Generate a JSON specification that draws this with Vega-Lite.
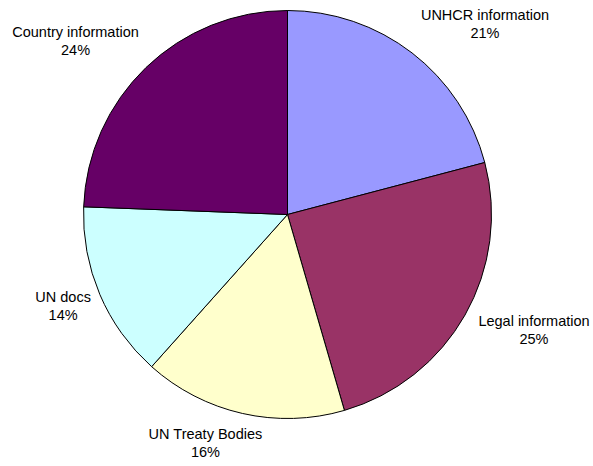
{
  "$schema": "https://vega.github.io/schema/vega-lite/v6.json",
  "autosize": {"type": "none"},
  "width": 575,
  "height": 429,
  "padding": {"left": 0, "top": 0, "right": 18, "bottom": 37},
  "background": "white",
  "config": {"view": {"stroke": null}},
  "data": {
    "values": [
      {"category": "UNHCR information", "value": 20.9, "order": 1, "label": "UNHCR information\n21%"},
      {"category": "Legal information", "value": 24.6, "order": 2, "label": "Legal information\n25%"},
      {"category": "UN Treaty Bodies", "value": 16.1, "order": 3, "label": "UN Treaty Bodies\n16%"},
      {"category": "UN docs", "value": 14.0, "order": 4, "label": "UN docs\n14%"},
      {"category": "Country information", "value": 24.4, "order": 5, "label": "Country information\n24%"}
    ]
  },
  "encoding": {
    "theta": {"field": "value", "type": "quantitative", "stack": true},
    "order": {"field": "order", "type": "quantitative"}
  },
  "layer": [
    {
      "mark": {"type": "arc", "outerRadius": 204, "stroke": "black", "strokeWidth": 1},
      "encoding": {
        "color": {
          "field": "category",
          "type": "nominal",
          "scale": {
            "domain": ["UNHCR information", "Legal information", "UN Treaty Bodies", "UN docs", "Country information"],
            "range": ["#9999FF", "#993366", "#FFFFCC", "#CCFFFF", "#660066"]
          },
          "legend": null
        }
      }
    },
    {
      "mark": {"type": "text", "radius": 258, "dx": 40, "dy": 6, "font": "Liberation Sans", "fontSize": 14.5, "lineBreak": "\n", "lineHeight": 18, "color": "black", "align": "center", "baseline": "middle"},
      "encoding": {
        "text": {"condition": {"test": "datum.order == 1", "field": "label"}, "value": ""}
      }
    },
    {
      "mark": {"type": "text", "radius": 258, "dx": 22, "dy": -20, "font": "Liberation Sans", "fontSize": 14.5, "lineBreak": "\n", "lineHeight": 18, "color": "black", "align": "center", "baseline": "middle"},
      "encoding": {
        "text": {"condition": {"test": "datum.order == 2", "field": "label"}, "value": ""}
      }
    },
    {
      "mark": {"type": "text", "radius": 258, "dx": -25, "dy": -31, "font": "Liberation Sans", "fontSize": 14.5, "lineBreak": "\n", "lineHeight": 18, "color": "black", "align": "center", "baseline": "middle"},
      "encoding": {
        "text": {"condition": {"test": "datum.order == 3", "field": "label"}, "value": ""}
      }
    },
    {
      "mark": {"type": "text", "radius": 258, "dx": 13, "dy": -17, "font": "Liberation Sans", "fontSize": 14.5, "lineBreak": "\n", "lineHeight": 18, "color": "black", "align": "center", "baseline": "middle"},
      "encoding": {
        "text": {"condition": {"test": "datum.order == 4", "field": "label"}, "value": ""}
      }
    },
    {
      "mark": {"type": "text", "radius": 258, "dx": -33, "dy": 4, "font": "Liberation Sans", "fontSize": 14.5, "lineBreak": "\n", "lineHeight": 18, "color": "black", "align": "center", "baseline": "middle"},
      "encoding": {
        "text": {"condition": {"test": "datum.order == 5", "field": "label"}, "value": ""}
      }
    }
  ]
}
